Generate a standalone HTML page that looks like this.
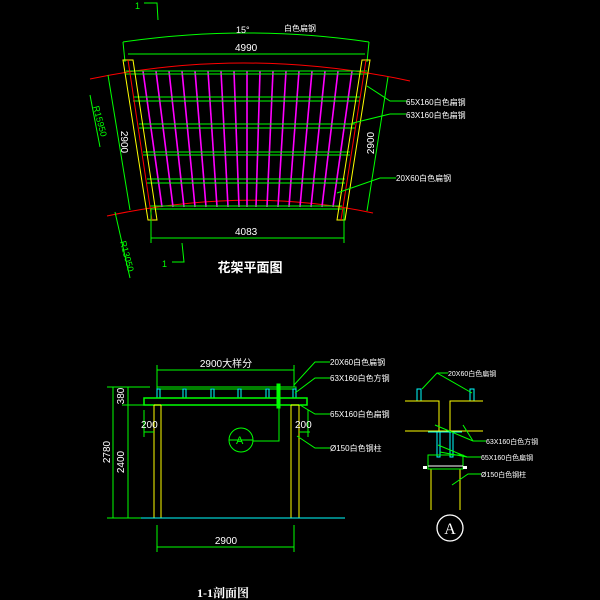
<!DOCTYPE html>
<html><head><meta charset="utf-8"><style>
html,body{margin:0;padding:0;background:#000;}
svg{display:block;}
text{fill:#fff;font-family:"Liberation Sans","Noto Sans CJK SC",sans-serif;}
</style></head><body>
<svg width="600" height="600" viewBox="0 0 600 600" xmlns="http://www.w3.org/2000/svg">
<g fill="none" stroke-width="1">
<!-- section marks plan -->
<polyline points="144,3 157,3 158,20" stroke="#0f0"/>
<text x="135" y="9" font-size="9" style="fill:#0f0">1</text>
<polyline points="172,262 184,262 182,243" stroke="#0f0"/>
<text x="162" y="267" font-size="9" style="fill:#0f0">1</text>
<!-- top arc -->
<path d="M123,42 Q247,24 369,42" stroke="#0f0"/>
<line x1="123" y1="42" x2="125" y2="62" stroke="#0f0"/>
<line x1="369" y1="42" x2="367" y2="62" stroke="#0f0"/>
<line x1="128" y1="54" x2="365" y2="54" stroke="#0f0"/>
<!-- red arcs -->
<path d="M90,79 Q247,46 410,81" stroke="#f00"/>
<path d="M107,216 Q247,186 373,213" stroke="#f00"/>
<!-- rafters -->
<g stroke="#f0f" stroke-width="1.6">
<line x1="143" y1="71" x2="162" y2="207"/><line x1="156" y1="71" x2="173" y2="207"/>
<line x1="169" y1="71" x2="184" y2="207"/><line x1="182" y1="71" x2="195" y2="207"/>
<line x1="195" y1="71" x2="206" y2="207"/><line x1="208" y1="71" x2="217" y2="207"/>
<line x1="221" y1="71" x2="228" y2="207"/><line x1="234" y1="71" x2="239" y2="207"/>
<line x1="247" y1="71" x2="247" y2="207"/><line x1="260" y1="71" x2="256" y2="207"/>
<line x1="273" y1="71" x2="267" y2="207"/><line x1="286" y1="71" x2="278" y2="207"/>
<line x1="299" y1="71" x2="289" y2="207"/><line x1="312" y1="71" x2="300" y2="207"/>
<line x1="325" y1="71" x2="311" y2="207"/><line x1="338" y1="71" x2="322" y2="207"/>
<line x1="352" y1="71" x2="333" y2="207"/>
</g>
<!-- beams -->
<g stroke="#0f0">
<line x1="126" y1="71" x2="367" y2="71"/><line x1="126" y1="74" x2="367" y2="74"/>
<line x1="133" y1="97" x2="360" y2="97"/><line x1="133" y1="101" x2="360" y2="101"/>
<line x1="139" y1="124" x2="355" y2="124"/><line x1="139" y1="128" x2="355" y2="128"/>
<line x1="143" y1="152" x2="350" y2="152"/><line x1="143" y1="155" x2="350" y2="155"/>
<line x1="147" y1="179" x2="345" y2="179"/><line x1="147" y1="183" x2="345" y2="183"/>
<line x1="150" y1="206" x2="342" y2="206"/><line x1="150" y1="209" x2="342" y2="209"/>
</g>
<!-- posts -->
<polygon points="123,60 133,60 157,220 148,220" stroke="#ff0"/>
<line x1="128" y1="60" x2="152" y2="220" stroke="#f00"/>
<polygon points="362,60 370,60 345,220 337,220" stroke="#ff0"/>
<line x1="366" y1="60" x2="341" y2="220" stroke="#f00"/>
<!-- dims -->
<line x1="108" y1="75" x2="130" y2="210" stroke="#0f0"/>
<line x1="388" y1="77" x2="367" y2="211" stroke="#0f0"/>
<line x1="90" y1="95" x2="100" y2="147" stroke="#0f0"/>
<line x1="115" y1="212" x2="130" y2="278" stroke="#0f0"/>
<line x1="151" y1="208" x2="151" y2="243" stroke="#0f0"/>
<line x1="344" y1="208" x2="344" y2="243" stroke="#0f0"/>
<line x1="151" y1="238" x2="344" y2="238" stroke="#0f0"/>
<!-- leaders plan -->
<polyline points="367,86 390,101 407,101" stroke="#0f0"/>
<polyline points="353,123 390,114 406,114" stroke="#0f0"/>
<polyline points="337,193 380,178 396,178" stroke="#0f0"/>

<!-- SECTION -->
<line x1="157" y1="370" x2="294" y2="370" stroke="#0f0"/>
<line x1="157" y1="365" x2="157" y2="387" stroke="#0f0"/>
<line x1="294" y1="365" x2="294" y2="387" stroke="#0f0"/>
<rect x="157" y="387" width="139" height="2" stroke="#0f0"/>
<g stroke="#0ff">
<rect x="157" y="389" width="3" height="9"/><rect x="183" y="389" width="3" height="9"/>
<rect x="211" y="389" width="3" height="9"/><rect x="238" y="389" width="3" height="9"/>
<rect x="266" y="389" width="3" height="9"/><rect x="293" y="389" width="3" height="9"/>
</g>
<rect x="144" y="398" width="163" height="7" stroke="#0f0" stroke-width="1.5"/>
<rect x="277" y="384" width="3" height="24" fill="#0f0" stroke="#0f0"/>
<g stroke="#ff0">
<line x1="154" y1="405" x2="154" y2="518"/><line x1="161" y1="405" x2="161" y2="518"/>
<line x1="291" y1="405" x2="291" y2="518"/><line x1="299" y1="405" x2="299" y2="518"/>
<line x1="154" y1="405" x2="161" y2="405"/><line x1="291" y1="405" x2="299" y2="405"/>
</g>
<line x1="141" y1="518" x2="345" y2="518" stroke="#0ff"/>
<circle cx="241" cy="440" r="12" stroke="#0f0"/>
<line x1="229" y1="440" x2="253" y2="440" stroke="#0f0"/>
<polyline points="253,441 279,441 279,408" stroke="#0f0"/>
<g stroke="#0f0">
<line x1="113" y1="387" x2="113" y2="518"/><line x1="128" y1="387" x2="128" y2="518"/>
<line x1="107" y1="387" x2="150" y2="387"/><line x1="122" y1="405" x2="150" y2="405"/>
<line x1="107" y1="518" x2="141" y2="518"/>
<line x1="144" y1="432" x2="154" y2="432"/><line x1="299" y1="432" x2="310" y2="432"/>
<line x1="144" y1="410" x2="144" y2="437"/><line x1="308" y1="410" x2="308" y2="437"/>
<line x1="157" y1="525" x2="157" y2="552"/><line x1="294" y1="525" x2="294" y2="552"/>
<line x1="157" y1="547" x2="294" y2="547"/>
<polyline points="294,385 315,362 330,362"/>
<polyline points="295,393 315,378 330,378"/>
<polyline points="300,405 315,414 330,414"/>
<polyline points="297,436 315,448 330,448"/>
</g>

<!-- DETAIL A -->
<rect x="417" y="389" width="4" height="12" stroke="#0ff"/>
<rect x="470" y="389" width="4" height="12" stroke="#0ff"/>
<g stroke="#ff0">
<polyline points="405,401 439,401 439,431"/>
<polyline points="483,401 450,401 450,431"/>
<line x1="405" y1="431" x2="483" y2="431"/>
<line x1="431" y1="469" x2="431" y2="510"/><line x1="460" y1="469" x2="460" y2="510"/>
</g>
<g stroke="#0ff">
<rect x="437" y="432" width="3" height="25"/><rect x="450" y="432" width="3" height="25"/>
<line x1="428" y1="432" x2="462" y2="432"/>
</g>
<rect x="428" y="455" width="35" height="14" stroke="#0f0"/>
<line x1="428" y1="466" x2="463" y2="466" stroke="#fff"/>
<rect x="423" y="466" width="4" height="3" fill="#fff"/>
<rect x="463" y="466" width="4" height="3" fill="#fff"/>
<circle cx="450" cy="528" r="13" stroke="#fff" stroke-width="1.3"/>
<g stroke="#0f0">
<polyline points="422,389 437,373 448,373"/><line x1="437" y1="373" x2="472" y2="393"/>
<polyline points="435,425 473,441 486,441"/><line x1="463" y1="425" x2="473" y2="441"/>
<polyline points="438,445 467,457 481,457"/><line x1="440" y1="452" x2="467" y2="457"/>
<polyline points="452,485 468,474 481,474"/>
</g>
</g>

<!-- TEXT -->
<g font-size="9">
<text x="236" y="33">15°</text>
<text x="284" y="31" font-size="8">白色扁钢</text>
<text x="235" y="51" font-size="10">4990</text>
<text x="235" y="235" font-size="10">4083</text>
<text x="0" y="0" font-size="10" transform="translate(121,142) rotate(90)" text-anchor="middle">2900</text>
<text x="0" y="0" font-size="10" transform="translate(374,143) rotate(-90)" text-anchor="middle">2900</text>
<text x="0" y="0" font-size="9" transform="translate(97,122) rotate(75)" text-anchor="middle" style="fill:#0f0">R15950</text>
<text x="0" y="0" font-size="9" transform="translate(124,257) rotate(75)" text-anchor="middle" style="fill:#0f0">R13050</text>
<text x="406" y="105" font-size="8">65X160白色扁钢</text>
<text x="406" y="118" font-size="8">63X160白色扁钢</text>
<text x="396" y="181" font-size="8">20X60白色扁钢</text>
<text x="250" y="272" font-size="13" font-weight="bold" text-anchor="middle">花架平面图</text>

<text x="226" y="367" font-size="10" text-anchor="middle">2900大样分</text>
<text x="330" y="365" font-size="8">20X60白色扁钢</text>
<text x="330" y="381" font-size="8">63X160白色方钢</text>
<text x="330" y="417" font-size="8">65X160白色扁钢</text>
<text x="330" y="451" font-size="8">Ø150白色钢柱</text>
<text x="141" y="428" font-size="10">200</text>
<text x="295" y="428" font-size="10">200</text>
<text x="0" y="0" font-size="10" transform="translate(110,452) rotate(-90)" text-anchor="middle">2780</text>
<text x="0" y="0" font-size="10" transform="translate(124,462) rotate(-90)" text-anchor="middle">2400</text>
<text x="0" y="0" font-size="10" transform="translate(124,396) rotate(-90)" text-anchor="middle">380</text>
<text x="236" y="444" font-size="11" style="fill:#0f0">A</text>
<text x="226" y="544" font-size="10" text-anchor="middle">2900</text>
<text x="223" y="597" font-size="12" font-weight="bold" text-anchor="middle" style="font-family:'Liberation Serif','Noto Serif CJK SC',serif">1-1剖面图</text>

<text x="448" y="376" font-size="7">20X60白色扁钢</text>
<text x="486" y="444" font-size="7">63X160白色方钢</text>
<text x="481" y="460" font-size="7">65X160白色扁钢</text>
<text x="481" y="477" font-size="7">Ø150白色钢柱</text>
<text x="450" y="534" font-size="16" text-anchor="middle" style="font-family:'Liberation Serif',serif">A</text>
</g>
</svg>
</body></html>
